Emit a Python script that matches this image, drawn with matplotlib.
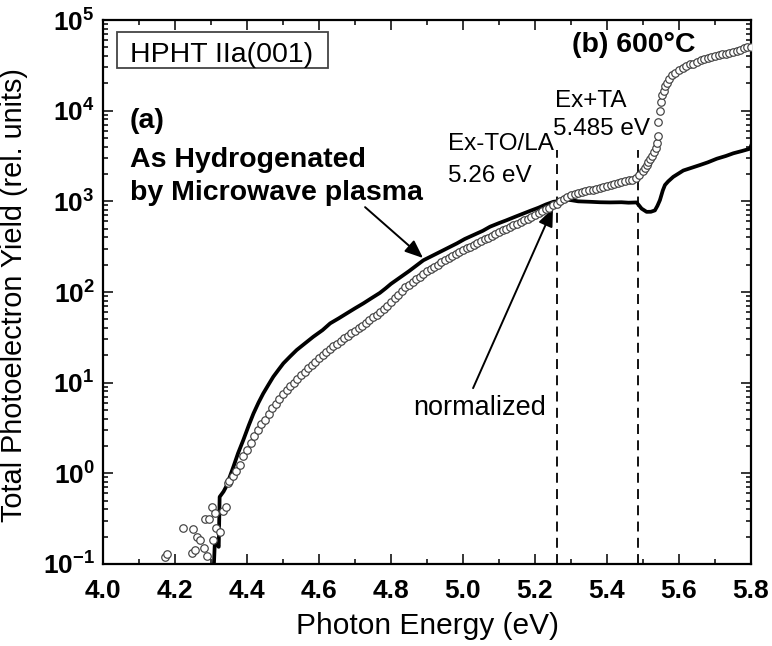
import numpy as np
import matplotlib
matplotlib.use("Agg")
import matplotlib.pyplot as plt
from matplotlib.ticker import FixedLocator, FuncFormatter, NullFormatter
from matplotlib.patches import Rectangle

plt.rcParams['font.family'] = ['Liberation Sans', 'DejaVu Sans']
plt.rcParams['mathtext.fontset'] = 'custom'
plt.rcParams['mathtext.rm'] = 'Liberation Sans'
plt.rcParams['mathtext.bf'] = 'Liberation Sans:bold'
plt.rcParams['axes.unicode_minus'] = False

# ---------------- data ----------------
# Open circles: photon energy (eV) and log10 of yield
circle_energy = [
    4.172, 4.177, 4.223, 4.247, 4.250, 4.256, 4.260, 4.270, 4.280, 4.282,
    4.290, 4.295, 4.302, 4.306, 4.311, 4.315, 4.324, 4.332, 4.343, 4.348,
    4.35, 4.36, 4.37, 4.38, 4.39, 4.40, 4.41, 4.42, 4.43, 4.44,
    4.45, 4.46, 4.47, 4.48, 4.49, 4.50, 4.51, 4.52, 4.53, 4.54,
    4.55, 4.56, 4.57, 4.58, 4.59, 4.60, 4.61, 4.62, 4.63, 4.64,
    4.65, 4.66, 4.67, 4.68, 4.69, 4.70, 4.71, 4.72, 4.73, 4.74,
    4.75, 4.76, 4.77, 4.78, 4.79, 4.80, 4.81, 4.82, 4.83, 4.84,
    4.85, 4.86, 4.87, 4.88, 4.89, 4.90, 4.91, 4.92, 4.93, 4.94,
    4.95, 4.96, 4.97, 4.98, 4.99, 5.00, 5.01, 5.02, 5.03, 5.04,
    5.05, 5.06, 5.07, 5.08, 5.09, 5.10, 5.11, 5.12, 5.13, 5.14,
    5.15, 5.16, 5.17, 5.18, 5.19, 5.20, 5.21, 5.22, 5.23, 5.24,
    5.25, 5.26, 5.27, 5.28, 5.29, 5.30, 5.31, 5.32, 5.33, 5.34,
    5.35, 5.36, 5.37, 5.38, 5.39, 5.40, 5.41, 5.42, 5.43, 5.44,
    5.45, 5.46, 5.47, 5.48, 5.49, 5.50, 5.505, 5.51, 5.515, 5.52,
    5.525, 5.53, 5.535, 5.538, 5.541, 5.543, 5.546, 5.549, 5.553, 5.557,
    5.562, 5.567, 5.573, 5.58, 5.59, 5.60, 5.61, 5.62, 5.63, 5.64,
    5.65, 5.66, 5.67, 5.68, 5.69, 5.70, 5.71, 5.72, 5.73, 5.74,
    5.75, 5.76, 5.77, 5.78, 5.79, 5.80,
]
circle_log_yield = [
    -0.92, -0.89, -0.60, -0.88, -0.61, -0.85, -0.70, -0.74, -0.82, -0.50,
    -0.91, -0.50, -0.37, -0.74, -0.44, -0.60, -0.65, -0.42, -0.37, -0.11,
    -0.09, -0.03, 0.03, 0.09, 0.19, 0.26, 0.34, 0.41, 0.48, 0.54,
    0.59, 0.65, 0.72, 0.77, 0.82, 0.87, 0.92, 0.96, 1.00, 1.04,
    1.08, 1.12, 1.16, 1.20, 1.23, 1.27, 1.30, 1.34, 1.37, 1.40,
    1.43, 1.46, 1.49, 1.52, 1.55, 1.57, 1.60, 1.63, 1.66, 1.69,
    1.72, 1.75, 1.78, 1.81, 1.85, 1.89, 1.93, 1.97, 2.01, 2.05,
    2.08, 2.11, 2.14, 2.17, 2.20, 2.23, 2.25, 2.28, 2.30, 2.33,
    2.35, 2.38, 2.40, 2.42, 2.44, 2.46, 2.48, 2.50, 2.52, 2.54,
    2.56, 2.58, 2.60, 2.62, 2.64, 2.66, 2.68, 2.70, 2.72, 2.74,
    2.755, 2.775, 2.79, 2.81, 2.83, 2.85, 2.87, 2.89, 2.91, 2.93,
    2.955, 2.975, 3.00, 3.03, 3.05, 3.07, 3.08, 3.09, 3.10, 3.11,
    3.12, 3.13, 3.14, 3.15, 3.16, 3.17, 3.18, 3.19, 3.20, 3.21,
    3.22, 3.23, 3.24, 3.26, 3.29, 3.33, 3.37, 3.40, 3.435, 3.47,
    3.50, 3.54, 3.59, 3.64, 3.72, 3.88, 4.00, 4.10, 4.17, 4.22,
    4.27, 4.31, 4.35, 4.39, 4.42, 4.45, 4.47, 4.49, 4.51, 4.52,
    4.54, 4.555, 4.57, 4.58, 4.59, 4.60, 4.61, 4.62, 4.63, 4.64,
    4.65, 4.66, 4.67, 4.69, 4.70, 4.70,
]

# Solid line: photon energy (eV) and log10 of yield
line_energy = [
    4.305, 4.311, 4.3115, 4.321, 4.3215, 4.324, 4.335, 4.343, 4.352, 4.362,
    4.375, 4.39, 4.405, 4.418, 4.432, 4.445, 4.46, 4.473, 4.488, 4.501,
    4.52, 4.538, 4.56, 4.584, 4.61, 4.631, 4.655, 4.677, 4.70, 4.723,
    4.745, 4.769, 4.785, 4.80, 4.825, 4.85, 4.87, 4.89, 4.915, 4.94,
    4.96, 4.983, 5.005, 5.03, 5.055, 5.075, 5.10, 5.12, 5.145, 5.168,
    5.19, 5.21, 5.23, 5.251, 5.26, 5.27, 5.28, 5.30, 5.32, 5.353,
    5.38, 5.408, 5.44, 5.46, 5.482, 5.488, 5.496, 5.51, 5.522, 5.533,
    5.54, 5.547, 5.555, 5.561, 5.57, 5.584, 5.60, 5.612, 5.635, 5.658,
    5.68, 5.705, 5.73, 5.751, 5.775, 5.797, 5.80,
]
line_log_yield = [
    -1.30, -0.73, -0.73, -0.81, -0.81, -0.26, -0.20, -0.14, -0.04, 0.07,
    0.22, 0.37, 0.53, 0.66, 0.78, 0.88, 0.98, 1.065, 1.145, 1.213,
    1.29, 1.36, 1.43, 1.506, 1.58, 1.654, 1.71, 1.764, 1.82, 1.874,
    1.93, 1.99, 2.04, 2.09, 2.16, 2.23, 2.29, 2.35, 2.40, 2.45,
    2.49, 2.536, 2.585, 2.63, 2.675, 2.72, 2.76, 2.79, 2.83, 2.866,
    2.90, 2.93, 2.965, 2.995, 3.00, 3.015, 3.02, 3.013, 3.00, 2.995,
    2.99, 2.988, 2.99, 2.985, 2.988, 2.96, 2.92, 2.884, 2.885, 2.90,
    2.95, 3.013, 3.12, 3.18, 3.22, 3.27, 3.31, 3.34, 3.37, 3.40,
    3.43, 3.47, 3.50, 3.53, 3.555, 3.58, 3.61,
]

ex_lines = [5.26, 5.485]
x_ticks = [4.0, 4.2, 4.4, 4.6, 4.8, 5.0, 5.2, 5.4, 5.6, 5.8]
y_decades = [-1, 0, 1, 2, 3, 4, 5]

# ---------------- figure ----------------
fig = plt.figure(figsize=(7.72, 6.46), dpi=100)
ax = fig.add_axes([103 / 772, 1 - 564 / 646, 648 / 772, 544 / 646])

ax.plot(line_energy, 10 ** np.array(line_log_yield), color='black', lw=2.7,
        solid_joinstyle='round', zorder=3)
ax.plot(circle_energy, 10 ** np.array(circle_log_yield), linestyle='none',
        marker='o', markersize=5.4, markerfacecolor='white',
        markeredgecolor='#404040', markeredgewidth=0.85, zorder=4)

ax.set_yscale('log')
ax.set_xlim(4.0, 5.8)
ax.set_ylim(1e-1, 1e5)

for xv in ex_lines:
    ax.plot([xv, xv], [1e-1, 3700], color='black', lw=1.3,
            dashes=(5.5, 3.5), zorder=2)

# ticks
minor_x = [round(4.1 + 0.2 * i, 1) for i in range(9)]
ax.xaxis.set_major_locator(FixedLocator(x_ticks))
ax.xaxis.set_minor_locator(FixedLocator(minor_x))
ax.xaxis.set_major_formatter(FuncFormatter(lambda v, p: f"{v:.1f}"))
ax.yaxis.set_major_locator(FixedLocator([10.0 ** d for d in y_decades]))
ax.yaxis.set_minor_locator(FixedLocator(
    [m * 10.0 ** d for d in y_decades[:-1] for m in range(2, 10)]))
ax.yaxis.set_minor_formatter(NullFormatter())
ax.yaxis.set_major_formatter(FuncFormatter(
    lambda v, p: r"$\mathbf{10^{%d}}$" % int(round(np.log10(v)))))
ax.tick_params(which='both', direction='in', top=True, right=True, width=1.1)
ax.tick_params(which='major', length=7.2)
ax.tick_params(which='minor', length=3.6)
ax.tick_params(axis='x', which='major', pad=11, labelsize=19)
ax.tick_params(axis='y', which='major', pad=6, labelsize=19)
for lab in ax.get_xticklabels():
    lab.set_fontweight('bold')
for sp in ax.spines.values():
    sp.set_linewidth(1.6)

ax.set_xlabel('Photon Energy (eV)', fontsize=21.5, labelpad=6)
ax.set_ylabel('Total Photoelectron Yield (rel. units)', fontsize=20.8)
ax.yaxis.set_label_coords((28 - 103) / 648, (564 - 295) / 544)


def axc(px, py):
    return ((px - 103) / 648, (564 - py) / 544)


# sample box
ax.add_patch(Rectangle(axc(117, 68), 211 / 648, 36 / 544, transform=ax.transAxes,
                       fill=False, edgecolor='#444444', lw=1.3, zorder=5))
ax.text(*axc(130, 62), 'HPHT IIa(001)', transform=ax.transAxes, fontsize=20.5,
        ha='left', va='baseline', zorder=6)

ax.text(*axc(572, 52), '(b) 600°C', transform=ax.transAxes, fontsize=20.5,
        fontweight='bold', ha='left', va='baseline')
ax.text(*axc(130, 128), '(a)', transform=ax.transAxes, fontsize=20.5,
        fontweight='bold', ha='left', va='baseline')
ax.text(*axc(130, 167), 'As Hydrogenated', transform=ax.transAxes, fontsize=20.5,
        fontweight='bold', ha='left', va='baseline')
ax.text(*axc(130, 200), 'by Microwave plasma', transform=ax.transAxes, fontsize=20.5,
        fontweight='bold', ha='left', va='baseline')

ax.text(*axc(448, 150), 'Ex-TO/LA', transform=ax.transAxes, fontsize=17.5,
        ha='left', va='baseline')
ax.text(*axc(448, 182), '5.26 eV', transform=ax.transAxes, fontsize=17.5,
        ha='left', va='baseline')
ax.text(*axc(555, 107), 'Ex+TA', transform=ax.transAxes, fontsize=17.5,
        ha='left', va='baseline')
ax.text(*axc(553, 135), '5.485 eV', transform=ax.transAxes, fontsize=17.5,
        ha='left', va='baseline')
ax.text(*axc(413, 415), 'normalized', transform=ax.transAxes, fontsize=19.5,
        ha='left', va='baseline')

arrow_kw = dict(arrowstyle='-|>,head_length=1.1,head_width=0.45', color='black',
                lw=1.4, shrinkA=0, shrinkB=0)
ax.annotate('', xy=(4.889, 237), xytext=(4.728, 863), arrowprops=arrow_kw)
ax.annotate('', xy=(5.25, 841), xytext=(5.028, 8.7), arrowprops=arrow_kw)

fig.savefig('out.png', dpi=100)
